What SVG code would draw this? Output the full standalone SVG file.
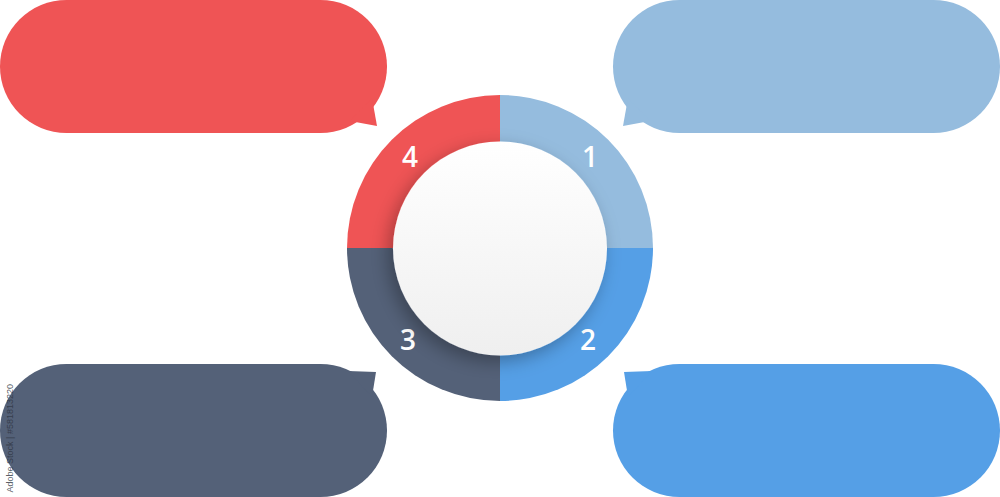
<svg xmlns="http://www.w3.org/2000/svg" width="1000" height="497" viewBox="0 0 1000 497">
  <style>
    .num { font-family: "Open Sans", "Liberation Sans", sans-serif; font-weight: 600; font-size: 28px; fill: #ffffff; text-anchor: middle; }
    .wm { font-family: "Liberation Sans", "DejaVu Sans", sans-serif; font-size: 9px; fill: #2e3440; fill-opacity: 0.8; }
    .red { fill: #EF5455; }
    .lblue { fill: #95BCDE; }
    .blue { fill: #559FE6; }
    .slate { fill: #546178; }
  </style>
  <defs>
    <linearGradient id="centerGrad" x1="0" y1="0" x2="0" y2="1">
      <stop offset="0" stop-color="#ffffff"/>
      <stop offset="1" stop-color="#efefef"/>
    </linearGradient>
    <filter id="shadow" x="-30%" y="-30%" width="160%" height="160%">
      <feDropShadow dx="-5" dy="6" stdDeviation="9" flood-color="#000000" flood-opacity="0.3"/>
    </filter>
  </defs>

  <g id="bubble-top-left" class="red">
    <rect x="0" y="0" width="387" height="133" rx="66.5" ry="66.5"/>
    <polygon points="350,121 377,126 372,98"/>
  </g>
  <g id="bubble-top-right" class="lblue">
    <rect x="613" y="0" width="387" height="133" rx="66.5" ry="66.5"/>
    <polygon points="650,121 623,126 628,98"/>
  </g>
  <g id="bubble-bottom-left" class="slate">
    <rect x="0" y="364" width="387" height="133" rx="66.5" ry="66.5"/>
    <polygon points="348,371 376,372 372,397"/>
  </g>
  <g id="bubble-bottom-right" class="blue">
    <rect x="613" y="364" width="387" height="133" rx="66.5" ry="66.5"/>
    <polygon points="652,371 624,372 628,397"/>
  </g>

  <g id="connectors"></g>

  <g id="segment-1">
    <path class="lblue" d="M500,248 L500,95 A153,153 0 0 1 653,248 Z"/>
    <text class="num" x="590" y="167">1</text>
  </g>
  <g id="segment-2">
    <path class="blue" d="M500,248 L653,248 A153,153 0 0 1 500,401 Z"/>
    <text class="num" x="588" y="350">2</text>
  </g>
  <g id="segment-3">
    <path class="slate" d="M500,248 L500,401 A153,153 0 0 1 347,248 Z"/>
    <text class="num" x="408" y="350">3</text>
  </g>
  <g id="segment-4">
    <path class="red" d="M500,248 L347,248 A153,153 0 0 1 500,95 Z"/>
    <text class="num" x="410" y="167">4</text>
  </g>

  <g id="center">
    <circle cx="500" cy="248.5" r="107" fill="url(#centerGrad)" filter="url(#shadow)"/>
  </g>

  <text class="wm" transform="translate(13,384) rotate(-90)" text-anchor="end">Adobe Stock | #581813220</text>
</svg>
